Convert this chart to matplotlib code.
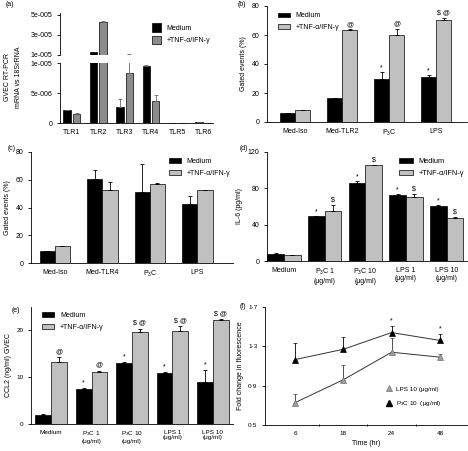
import numpy as np
import matplotlib
matplotlib.use('Agg')
import matplotlib.pyplot as plt
from matplotlib.lines import Line2D

plt.rcParams['font.family'] = ['Liberation Sans', 'DejaVu Sans']
plt.rcParams['mathtext.default'] = 'regular'
plt.rcParams['font.size'] = 5
plt.rcParams['axes.linewidth'] = 0.6
plt.rcParams['xtick.major.width'] = 0.6
plt.rcParams['ytick.major.width'] = 0.6
plt.rcParams['xtick.major.size'] = 2
plt.rcParams['ytick.major.size'] = 2

# ---- data ----
# (a) RT-PCR
a_cats = ['TLR1', 'TLR2', 'TLR3', 'TLR4', 'TLR5', 'TLR6']
a_med = [2.15e-6, 1.23e-5, 2.6e-6, 9.5e-6, 0.0, 1.5e-7]
a_med_err = [0.0, 0.0, 1.35e-6, 0.2e-6, 0.0, 0.0]
a_tnf = [1.5e-6, 4.33e-5, 8.35e-6, 3.6e-6, 0.0, 0.5e-7]
a_tnf_err = [0.2e-6, 0.1e-6, 2.4e-6, 1.0e-6, 0.0, 0.0]

# (b) TLR2 gated events
b_cats = ['Med-Iso', 'Med-TLR2', 'P$_3$C', 'LPS']
b_med = [6.2, 16.5, 29.7, 31.3]
b_med_err = [0, 0, 4.8, 0.9]
b_tnf = [8.0, 63.5, 59.8, 70.1]
b_tnf_err = [0, 0.4, 4.2, 1.8]
b_med_sig = ['', '', '*', '*']
b_tnf_sig = ['', '@', '@', '$ @']

# (c) TLR4 gated events
c_cats = ['Med-Iso', 'Med-TLR4', 'P$_3$C', 'LPS']
c_med = [8.9, 60.8, 51.0, 42.5]
c_med_err = [0, 6.5, 20.4, 5.8]
c_tnf = [12.5, 52.6, 57.0, 52.6]
c_tnf_err = [0, 5.8, 0.7, 0]

# (d) IL-6
d_cats = ['Medium', 'P$_3$C 1\n(\u03bcg/ml)', 'P$_3$C 10\n(\u03bcg/ml)',
          'LPS 1\n(\u03bcg/ml)', 'LPS 10\n(\u03bcg/ml)']
d_med = [8.1, 49.0, 85.4, 73.2, 60.4]
d_med_err = [0.5, 0.8, 2.9, 1.1, 1.4]
d_tnf = [6.6, 54.8, 105.6, 71.0, 47.5]
d_tnf_err = [0.4, 7.0, 0.3, 3.3, 1.1]
d_med_sig = ['', '*', '*', '*', '*']
d_tnf_sig = ['', '$', '$', '$', '$']

# (e) CCL2
e_cats = d_cats
e_med = [1.9, 7.45, 13.0, 10.85, 8.8]
e_med_err = [0.2, 0.25, 0.2, 0.15, 2.6]
e_tnf = [13.2, 11.0, 19.5, 19.7, 22.0]
e_tnf_err = [0.9, 0.3, 0.7, 1.0, 0.2]
e_med_sig = ['', '*', '*', '*', '*']
e_tnf_sig = ['@', '@', '$ @', '$ @', '$ @']

# (f) time course
f_times = ['6', '18', '24', '48']
f_lps = [0.727, 0.96, 1.24, 1.19]
f_lps_err = [0.093, 0.15, 0.145, 0.035]
f_p3c = [1.165, 1.27, 1.44, 1.36]
f_p3c_err = [0.165, 0.13, 0.07, 0.07]
f_p3c_sig = ['', '', '*', '*']

BLACK = 'black'
GREY = '#c0c0c0'
GREY_A = '#8c8c8c'

W, H = 468, 451
fig = plt.figure(figsize=(W / 100, H / 100), dpi=100)


def px_axes(l, t, r, b):
    return fig.add_axes([l / W, 1 - b / H, (r - l) / W, (b - t) / H])


def clean(ax):
    ax.spines['top'].set_visible(False)
    ax.spines['right'].set_visible(False)
    ax.tick_params(axis='x', length=0, pad=4)


EKW = dict(ecolor=BLACK, elinewidth=0.6, capsize=1.5, capthick=0.6)


def bars(ax, cats, med, med_err, tnf, tnf_err, width, off, grey):
    x = np.arange(len(cats))
    z = np.zeros(len(cats))
    ax.bar(x - off, med, width, color=BLACK, edgecolor=BLACK, lw=0.5,
           yerr=[z, med_err], error_kw=EKW, label='Medium')
    ax.bar(x + off, tnf, width, color=grey, edgecolor=BLACK, lw=0.5,
           yerr=[z, tnf_err], error_kw=EKW, label='+TNF-\u03b1/IFN-\u03b3')
    ax.set_xticks(x)
    ax.set_xticklabels(cats)
    return x


def sig(ax, x, vals, errs, marks, dy, fs=5):
    for xi, v, e, m in zip(x, vals, errs, marks):
        if m:
            ax.text(xi, v + e + dy, m, ha='center', va='bottom', fontsize=fs)


def leg(ax, loc, anchor, fs=5):
    ax.legend(loc=loc, bbox_to_anchor=anchor, frameon=False, fontsize=fs,
              handlelength=1.8, handleheight=0.6, handletextpad=0.8, labelspacing=0.7,
              borderaxespad=0)

# ---- (a) broken axis ----
A_BREAK = 1e-5
axl = px_axes(60, 63, 213, 123)
axu = px_axes(60, 13, 213, 54.5)
x = np.arange(len(a_cats))
z = np.zeros(len(a_cats))
ekw = dict(ecolor='#666666', elinewidth=0.6, capsize=1.5, capthick=0.6)
# lower part
axl.bar(x - 0.18, a_med, 0.28, color=BLACK, edgecolor=BLACK, lw=0.5,
        yerr=[z, a_med_err], error_kw=ekw, label='Medium')
axl.bar(x + 0.18, a_tnf, 0.28, color=GREY_A, edgecolor=BLACK, lw=0.5,
        yerr=[z, a_tnf_err], error_kw=ekw, label='+TNF-\u03b1/IFN-\u03b3')
# upper part: bars, plus only the error bars that reach past the break
axu.bar(x - 0.18, a_med, 0.28, color=BLACK, edgecolor=BLACK, lw=0.5, label='Medium')
axu.bar(x + 0.18, a_tnf, 0.28, color=GREY_A, edgecolor=BLACK, lw=0.5,
        label='+TNF-\u03b1/IFN-\u03b3')
for off, vals, errs in ((-0.18, a_med, a_med_err), (0.18, a_tnf, a_tnf_err)):
    for xi, v, e in zip(x, vals, errs):
        if e > 0 and v + e > A_BREAK:
            axu.errorbar(xi + off, v, yerr=[[0], [e]], fmt='none', **ekw)
for ax in (axl, axu):
    ax.set_xlim(-0.45, 5.35)
    clean(ax)
axl.set_ylim(0, A_BREAK)
axl.set_yticks([0, 5e-6, 1e-5])
axl.set_yticklabels(['0', '5e-006', '1e-005'])
axl.set_xticks(x)
axl.set_xticklabels(a_cats)
axu.set_ylim(A_BREAK, 5.2e-5)
axu.set_yticks([1e-5, 3e-5, 5e-5])
axu.set_yticklabels(['1e-005', '3e-005', '5e-005'])
axu.spines['bottom'].set_visible(False)
axu.set_xticks([])
axu.legend(loc='upper left', bbox_to_anchor=(0.58, 0.82), frameon=False, fontsize=5,
           handlelength=1.4, handleheight=1.5, handletextpad=0.8, labelspacing=0.6,
           borderaxespad=0)
fig.text(13 / W, 1 - 77 / H, 'GVEC RT-PCR\nmRNA vs 18SrRNA', rotation=90,
         ha='center', va='center', fontsize=5, linespacing=1.7)
fig.text(6 / W, 1 - 5 / H, '(a)', fontsize=5, va='center')

# ---- (b) ----
axb = px_axes(267, 6, 467, 122)
x = bars(axb, b_cats, b_med, b_med_err, b_tnf, b_tnf_err, 0.32, 0.16, GREY)
sig(axb, x - 0.16, b_med, b_med_err, b_med_sig, 0.5)
sig(axb, x + 0.16, b_tnf, b_tnf_err, b_tnf_sig, 1.0)
axb.set_xlim(-0.6, 3.66)
axb.set_ylim(0, 80)
axb.set_yticks([0, 20, 40, 60, 80])
axb.set_ylabel('Gated events (%)', labelpad=3)
clean(axb)
leg(axb, 'upper left', (0.04, 0.97))
fig.text(238 / W, 1 - 5 / H, '(b)', fontsize=5, va='center')

# ---- (c) ----
axc = px_axes(31, 152, 233, 263)
x = bars(axc, c_cats, c_med, c_med_err, c_tnf, c_tnf_err, 0.32, 0.16, GREY)
axc.set_xlim(-0.5, 3.75)
axc.set_ylim(0, 80)
axc.set_yticks([0, 20, 40, 60, 80])
axc.set_ylabel('Gated events (%)', labelpad=3)
clean(axc)
leg(axc, 'upper right', (1.0, 0.97))
fig.text(16 / W, 1 - 148 / H, '(c)', fontsize=5, va='center', ha='right')

# ---- (d) ----
axd = px_axes(267, 152, 467, 261)
x = bars(axd, d_cats, d_med, d_med_err, d_tnf, d_tnf_err, 0.41, 0.205, GREY)
sig(axd, x - 0.205, d_med, d_med_err, d_med_sig, 0.5)
sig(axd, x + 0.205, d_tnf, d_tnf_err, d_tnf_sig, 1.5)
axd.set_xlim(-0.42, 4.5)
axd.set_ylim(0, 120)
axd.set_yticks([0, 40, 80, 120])
axd.set_ylabel('IL-6 (pg/ml)', labelpad=3)
clean(axd)
leg(axd, 'upper right', (1.0, 0.97), fs=5.3)
fig.text(248 / W, 1 - 148 / H, '(d)', fontsize=5, va='center', ha='right')

# ---- (e) ----
axe = px_axes(31, 307, 233, 424)
x = bars(axe, e_cats, e_med, e_med_err, e_tnf, e_tnf_err, 0.39, 0.195, GREY)
sig(axe, x - 0.195, e_med, e_med_err, e_med_sig, 0.3)
sig(axe, x + 0.195, e_tnf, e_tnf_err, e_tnf_sig, 0.5)
axe.set_xlim(-0.5, 4.5)
axe.set_ylim(0, 24.8)
axe.set_yticks([0, 10, 20])
axe.set_ylabel('CCL2 (ng/ml) GVEC', labelpad=3)
axe.tick_params(labelsize=4.6)
clean(axe)
leg(axe, 'upper left', (0.04, 0.98))
fig.text(12 / W, 1 - 310 / H, '(e)', fontsize=5, va='center')

# ---- (f) ----
axf = px_axes(265, 307, 467, 425)
xf = np.arange(len(f_times))
axf.errorbar(xf, f_lps, yerr=[np.zeros(4), f_lps_err], color='#333333', lw=0.7,
             marker='^', ms=4, mfc='#a0a0a0', mec='#707070', mew=0.5,
             ecolor='#333333', elinewidth=0.6, capsize=1.5, capthick=0.6)
axf.errorbar(xf, f_p3c, yerr=[np.zeros(4), f_p3c_err], color='#333333', lw=0.7,
             marker='^', ms=4, mfc=BLACK, mec=BLACK, mew=0.5,
             ecolor=BLACK, elinewidth=0.6, capsize=1.5, capthick=0.6)
for xi, v, e, m in zip(xf, f_p3c, f_p3c_err, f_p3c_sig):
    if m:
        axf.text(xi, v + e + 0.01, m, ha='center', va='bottom', fontsize=5)
axf.set_xticks(xf)
axf.set_xticklabels(f_times)
axf.set_xticks(xf[:-1] + 0.5, minor=True)
axf.tick_params(axis='x', which='major', length=0, pad=4, labelsize=4.6)
axf.tick_params(axis='x', which='minor', length=2, direction='inout', width=0.6)
axf.tick_params(axis='y', labelsize=4.6)
axf.set_xlim(-0.62, 3.56)
axf.set_ylim(0.5, 1.7)
axf.set_yticks([0.5, 0.9, 1.3, 1.7])
axf.set_yticklabels(['0\u00b75', '0\u00b79', '1\u00b73', '1\u00b77'])
axf.set_ylabel('Fold change in fluorescence', labelpad=3)
axf.set_xlabel('Time (hr)', labelpad=3)
axf.spines['top'].set_visible(False)
axf.spines['right'].set_visible(False)
h1 = Line2D([], [], ls='none', marker='^', ms=5, mfc='#a0a0a0', mec='#707070', mew=0.5)
h2 = Line2D([], [], ls='none', marker='^', ms=5, mfc=BLACK, mec=BLACK)
axf.legend([h1, h2], ['LPS 10 (\u03bcg/ml)', 'P$_3$C 10  (\u03bcg/ml)'], loc='lower left',
           bbox_to_anchor=(0.58, 0.12), frameon=False, fontsize=4.6, handlelength=1.2,
           handletextpad=0.6, labelspacing=1.2, borderaxespad=0)
fig.text(240 / W, 1 - 307 / H, '(f)', fontsize=5, va='center')

fig.savefig('out.png', dpi=100)
